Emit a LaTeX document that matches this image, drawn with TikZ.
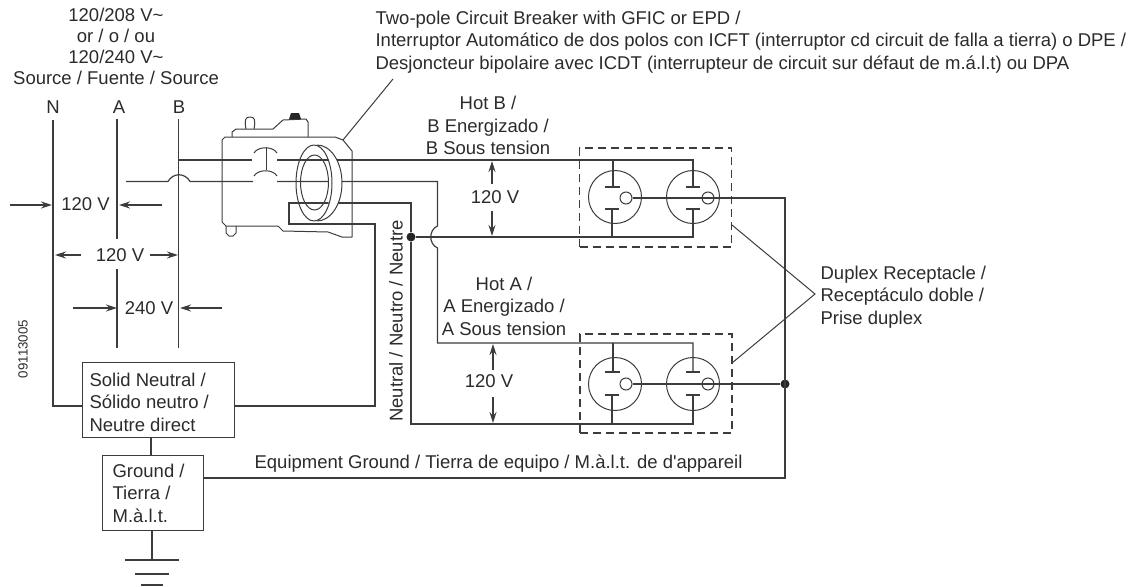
\documentclass[tikz,border=0pt]{standalone}
\usepackage{fontspec}
\setmainfont{Liberation Sans}
\usetikzlibrary{arrows.meta}
\definecolor{ink}{HTML}{2B2B2B}
\definecolor{wire}{HTML}{3C3C3C}

\begin{document}
\begin{tikzpicture}[x=1pt,y=-1pt,>={Stealth[length=11pt,width=7pt]},line width=1.2pt,draw=wire,text=ink,
                    text node/.style={font=\fontsize{18.5}{22.4}\selectfont,inner sep=0pt,align=center},
                    left node/.style={text node,align=left},
                    box node/.style={draw,rectangle,inner sep=0pt,anchor=north west},
                    outlet node/.style={circle,draw,inner sep=0pt,minimum size=53pt,line width=1pt},
                    pin node/.style={circle,draw,inner sep=0pt,minimum size=12pt,line width=1pt},
                    dot node/.style={circle,fill=black!85,inner sep=0pt,minimum size=9pt},
                    dash node/.style={draw,dash pattern=on 8pt off 5pt,inner sep=0pt,minimum width=152pt,minimum height=99pt},
                    body/.style={line width=1pt,line join=round}]
  \useasboundingbox (0,0) rectangle (1139,586);
  % texts
  \node[text node,font=\fontsize{18.5}{21}\selectfont] (source) at (116,46.5) {120/208 V\textasciitilde\\or / o / ou\\120/240 V\textasciitilde\\Source / Fuente / Source};
  \node[text node] (n) at (53,107) {N};
  \node[text node] (a) at (119,107) {A};
  \node[text node] (b) at (179,107) {B};
  \node[left node,anchor=west] (breaker) at (375,42) {Two-pole Circuit Breaker with GFIC or EPD /\\Interruptor Automático de dos polos con ICFT (interruptor cd circuit de falla a tierra) o DPE /\\Desjoncteur bipolaire avec ICDT (interrupteur de circuit sur défaut de m.á.l.t) ou DPA};
  \node[text node] (hotb) at (488,125.5) {Hot B /\\B Energizado /\\B Sous tension};
  \node[text node] (hota) at (504,306) {Hot A /\\A Energizado /\\A Sous tension};
  \node[left node,anchor=west] (duplex) at (820,297) {Duplex Receptacle /\\Receptáculo doble /\\Prise duplex};
  \node[text node,anchor=west] (equip) at (254,464) {Equipment Ground / Tierra de equipo / M.à.l.t. de d\textquotesingle appareil};
  \node[text node,rotate=90] (neutral) at (396,321) {Neutral / Neutro / Neutre};
  \node[text node,rotate=90,font=\fontsize{13.3}{15}\selectfont] (code) at (23,349) {09113005};
  \node[text node] (v1) at (85.5,204) {120 V};
  \node[text node] (v2) at (120,255) {120 V};
  \node[text node] (v3) at (149,308) {240 V};
  \node[text node] (v4) at (495,197) {120 V};
  \node[text node] (v5) at (489,381) {120 V};
  % boxes
  \node[box node,minimum width=152pt,minimum height=75pt] (solid) at (82,362) {};
  \node[left node,anchor=west] (solidtext) at (89,402) {Solid Neutral /\\Sólido neutro /\\Neutre direct};
  \node[box node,minimum width=101pt,minimum height=75pt] (ground) at (102,455) {};
  \node[left node,anchor=west] (groundtext) at (112,493) {Ground /\\Tierra /\\M.à.l.t.};
  % receptacles
  \node[outlet node] (r1) at (615,197) {};
  \node[outlet node] (r2) at (693,197) {};
  \node[outlet node] (r3) at (615,384) {};
  \node[outlet node] (r4) at (693,384) {};
  \node[pin node] (p1) at (626,198) {};
  \node[pin node] (p2) at (708,198) {};
  \node[pin node] (p3) at (626,384) {};
  \node[pin node] (p4) at (708,384) {};
  \node[dash node] (dup1) at (655.5,197.5) {};
  \node[dash node] (dup2) at (656,383.5) {};
  \node[dot node] (dot1) at (411,237) {};
  \node[dot node] (dot2) at (785,384) {};
  % points
  \coordinate (Ntop) at (53,120);
  \coordinate (Nfoot) at (53,406);
  \coordinate (solidL) at (82,406);
  \coordinate (solidR) at (234,406);
  \coordinate (Atop) at (117,119);
  \coordinate (Amid1) at (117,239);
  \coordinate (Amid2) at (117,269);
  \coordinate (Afoot) at (117,348);
  \coordinate (Btop) at (178.5,119);
  \coordinate (Bfoot) at (178.5,348);
  \coordinate (Btap) at (178.5,160);
  \coordinate (cb1) at (252,160);
  \coordinate (cb2) at (277,160);
  \coordinate (Atap) at (126,181.5);
  \coordinate (hop1) at (168,181.5);
  \coordinate (hop2) at (190,181.5);
  \coordinate (ca1) at (253,181.5);
  \coordinate (ca2) at (277,181.5);
  \coordinate (hotA1) at (437.5,181.5);
  \coordinate (hotA2) at (437.5,226);
  \coordinate (hotA3) at (437.5,248);
  \coordinate (hotA4) at (437.5,343);
  \coordinate (railA) at (693,343);
  \coordinate (railB) at (693,160);
  \coordinate (railC) at (693,237);
  \coordinate (railD) at (693,424);
  \coordinate (neu1) at (411,203);
  \coordinate (neu2) at (289,203);
  \coordinate (neu3) at (289,224);
  \coordinate (neu4) at (375,224);
  \coordinate (neu5) at (375,406);
  \coordinate (neu6) at (411,424);
  \coordinate (eq1) at (203,478);
  \coordinate (eq2) at (785,478);
  \coordinate (eq3) at (785,198);
  \coordinate (gnd0) at (152,530);
  \coordinate (gnd1) at (152,560);
  % wires
  \draw (Ntop) -- (Nfoot) -- (solidL);
  \draw (Atop) -- (Amid1);
  \draw (Amid2) -- (Afoot);
  \draw (Btop) -- (Bfoot);
  \draw (Btap) -- (cb1);
  \draw (cb2) -- (railB) -- +(0,27);
  \draw (Atap) -- (hop1) .. controls (173,172.5) and (185,172.5) .. (hop2) -- (ca1);
  \draw (ca2) -- (hotA1) -- (hotA2) .. controls (428.5,230) and (428.5,244) .. (hotA3) -- (hotA4) -- (railA) -- +(0,29);
  \draw (dot1) -- (railC) -- +(0,-28);
  \draw (dot1) -- (neu1) -- (neu2) -- (neu3) -- (neu4) -- (neu5) -- (solidR);
  \draw (dot1) -- (neu6) -- (railD) -- +(0,-29);
  \draw (p1) -- (eq3) -- (eq2) -- (eq1);
  \draw (p3) -- (dot2);
  \draw (151,437) -- (151,455);
  \draw (gnd0) -- (gnd1);
  \draw (125,560) -- (179,560);
  \draw (135,574) -- (169,574);
  \draw (141,585) -- (163,585);
  % contacts
  \draw (613,160) -- (613,187) (605,187) -- (620,187) (605,209) -- (619,209) (612,209) -- (612,237);
  \draw (686,187) -- (700,187) (686,209) -- (700,209);
  \draw (613,343) -- (613,372) (605,372) -- (620,372) (605,395) -- (619,395) (612,395) -- (612,424);
  \draw (686,372) -- (700,372) (686,395) -- (700,395);
  % breaker
  \draw[body] (225,137) -- (335,137) -- (343,140) -- (352,151) -- (352,237) -- (342,237) -- (328,232) -- (283,231) -- (278,226) -- (226,226) -- (222,222) -- (222,140) -- cycle;
  \draw[body] (232,137) -- (232,132) -- (236,129) -- (273,129) -- (283,120) -- (306,119) -- (308,122) -- (308,137);
  \draw[body] (246,129) .. controls (244,119) and (246,117) .. (250,117) .. controls (254,117) and (256,119) .. (254,129);
  \draw[body] (226,226) -- (226,233) -- (229,236) -- (233,236) -- (236,233) -- (236,226);
  \fill[black!85] (289,119) -- (291,113) -- (299,113) -- (301,119) -- cycle;
  \draw[body] (254,153) .. controls (258,146) and (273,146) .. (277,153);
  \draw[body] (266,147) -- (266,170);
  \draw[body] (254,176) .. controls (258,169) and (273,169) .. (277,176);
  \begin{scope}
    \clip (328.5,100) rectangle (346,240);
    \fill[white,even odd rule] (317,183) ellipse [x radius=25,y radius=38] (314.5,182.5) ellipse [x radius=14,y radius=27.5];
  \end{scope}
  \begin{scope}
    \clip (317,100) rectangle (346,240);
    \draw[body] (317,183) ellipse [x radius=25,y radius=38];
  \end{scope}
  \draw[body] (314,183) ellipse [x radius=18,y radius=38];
  \draw[body] (314.5,182.5) ellipse [x radius=14,y radius=27.5];
  % leaders
  \coordinate (cbtip) at (343,140);
  \coordinate (cbtext) at (393,79);
  \coordinate (apex) at (815,294);
  \coordinate (dupin1) at (732,225);
  \coordinate (dupin2) at (732,363);
  \draw[line width=1pt] (cbtip) -- (cbtext);
  \draw[line width=1pt] (dupin1) -- (apex) -- (dupin2);
  % arrows
  \path[->]
    (10,205) edge (52,205)
    (162,205) edge (119,205)
    (81,255) edge (55,255)
    (150,255) edge (178,255)
    (73,308) edge (117,308)
    (222,308) edge (180,308)
    (492,184) edge (492,161)
    (492,211) edge (492,236)
    (493,370) edge (493,344)
    (493,397) edge (493,423);
\end{tikzpicture}
\end{document}
